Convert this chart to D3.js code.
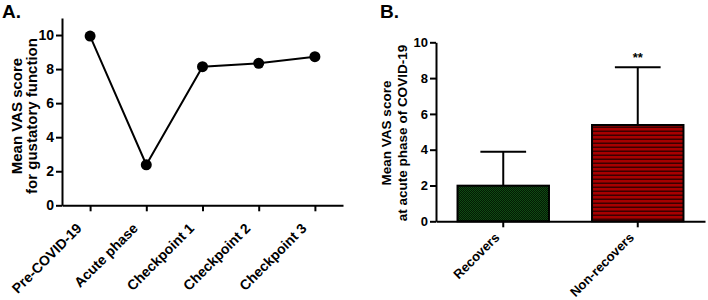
<!DOCTYPE html>
<html>
<head>
<meta charset="utf-8">
<script src="https://cdn.jsdelivr.net/npm/d3@7"></script>
<style>
  body { margin: 0; background: #fff; }
  svg text { font-family: "Liberation Sans", Arial, sans-serif !important; font-weight: 700 !important; fill: #000; }
</style>
</head>
<body>
<svg id="chart" width="708" height="300"></svg>
<script>
const width = 708, height = 300;

// panel A data
const phases = ["Pre-COVID-19", "Acute phase", "Checkpoint 1", "Checkpoint 2", "Checkpoint 3"];
const phaseScores = [9.94, 2.38, 8.14, 8.34, 8.73];
const ticksA = [0, 2, 4, 6, 8, 10];

// panel B data
const groups = ["Recovers", "Non-recovers"];
const groupMeans = [1.99, 5.38];
const groupSD = [1.9, 3.22];
const ticksB = [0, 2, 4, 6, 8, 10];

const svg = d3.select("#chart");

// patterns for the bars
const defs = svg.append("defs");
const green = defs.append("pattern")
    .attr("id", "greenPat")
    .attr("patternUnits", "userSpaceOnUse")
    .attr("width", 2).attr("height", 2);
green.append("rect").attr("width", 2).attr("height", 2).attr("fill", "#031a03");
green.append("rect").attr("width", 1).attr("height", 1).attr("fill", "#104a14");
green.append("rect").attr("x", 1).attr("y", 1).attr("width", 1).attr("height", 1).attr("fill", "#104a14");

const red = defs.append("pattern")
    .attr("id", "redPat")
    .attr("patternUnits", "userSpaceOnUse")
    .attr("width", 4).attr("height", 4);
red.append("rect").attr("width", 4).attr("height", 4).attr("fill", "#a80000");
red.append("rect").attr("y", 2.5).attr("width", 4).attr("height", 1.5).attr("fill", "#3c0000");

function styleAxis(g, size) {
    g.attr("font-family", null).attr("font-size", null);
    g.selectAll("path.domain").attr("stroke", "#000").attr("stroke-width", 2);
    g.selectAll(".tick line").attr("stroke", "#000").attr("stroke-width", 2);
    g.selectAll(".tick text").style("font-size", size + "px");
}

// ---------- Panel A ----------
const xA = d3.scalePoint().domain(phases).range([62, 343]).padding(0.5);
const yA = d3.scaleLinear().domain([0, 11]).range([205.3, 18]);

const axisAy = svg.append("g")
    .attr("transform", "translate(62,0)")
    .call(d3.axisLeft(yA).tickValues(ticksA).tickSize(6).tickSizeOuter(0).tickPadding(2));
styleAxis(axisAy, 14);

const axisAx = svg.append("g")
    .attr("transform", "translate(0,205.3)")
    .call(d3.axisBottom(xA).tickSize(6).tickSizeOuter(0));
styleAxis(axisAx, 14);
axisAx.selectAll(".tick text")
    .attr("text-anchor", "end")
    .attr("dy", 0)
    .attr("y", 0)
    .attr("transform", "translate(-8,24) rotate(-45)");

const line = d3.line()
    .x((d, i) => xA(phases[i]))
    .y(d => yA(d));

svg.append("path")
    .datum(phaseScores)
    .attr("fill", "none")
    .attr("stroke", "#000")
    .attr("stroke-width", 2)
    .attr("d", line);

svg.selectAll("circle.pt")
    .data(phaseScores)
    .enter()
    .append("circle")
    .attr("class", "pt")
    .attr("cx", (d, i) => xA(phases[i]))
    .attr("cy", d => yA(d))
    .attr("r", 5.5)
    .attr("fill", "#000");

svg.append("text")
    .attr("transform", "translate(21.5,116) rotate(-90)")
    .attr("text-anchor", "middle")
    .style("font-size", "15px")
    .text("Mean VAS score");
svg.append("text")
    .attr("transform", "translate(36.5,116) rotate(-90)")
    .attr("text-anchor", "middle")
    .style("font-size", "15px")
    .text("for gustatory function");

svg.append("text")
    .attr("x", 2).attr("y", 18)
    .style("font-size", "19px")
    .text("A.");

// ---------- Panel B ----------
const xB = d3.scaleBand().domain(groups).range([436, 705]).paddingInner(0.32).paddingOuter(0.16);
const yB = d3.scaleLinear().domain([0, 10]).range([221.3, 42.3]);

const axisBy = svg.append("g")
    .attr("transform", "translate(436,0)")
    .call(d3.axisLeft(yB).tickValues(ticksB).tickSize(6).tickSizeOuter(0).tickPadding(2));
styleAxis(axisBy, 13);

// error bars (drawn under the bars)
const cap = xB.bandwidth() / 4;
groups.forEach((g, i) => {
    const cx = xB(g) + xB.bandwidth() / 2;
    svg.append("line")
        .attr("x1", cx).attr("x2", cx)
        .attr("y1", yB(groupMeans[i])).attr("y2", yB(groupMeans[i] + groupSD[i]))
        .attr("stroke", "#000").attr("stroke-width", 2);
    svg.append("line")
        .attr("x1", cx - cap).attr("x2", cx + cap)
        .attr("y1", yB(groupMeans[i] + groupSD[i])).attr("y2", yB(groupMeans[i] + groupSD[i]))
        .attr("stroke", "#000").attr("stroke-width", 2);
});

svg.selectAll("rect.bar")
    .data(groupMeans)
    .enter()
    .append("rect")
    .attr("class", "bar")
    .attr("x", (d, i) => xB(groups[i]))
    .attr("y", d => yB(d))
    .attr("width", xB.bandwidth())
    .attr("height", d => yB(0) - yB(d))
    .attr("fill", (d, i) => i === 0 ? "url(#greenPat)" : "url(#redPat)")
    .attr("stroke", "#000")
    .attr("stroke-width", 2);

const axisBx = svg.append("g")
    .attr("transform", "translate(0,221.3)")
    .call(d3.axisBottom(xB).tickSize(6).tickSizeOuter(0));
styleAxis(axisBx, 13);
axisBx.selectAll(".tick text")
    .attr("text-anchor", "end")
    .attr("dy", 0)
    .attr("y", 0)
    .attr("transform", "translate(-3,17) rotate(-45)");

svg.append("text")
    .attr("x", xB("Non-recovers") + xB.bandwidth() / 2)
    .attr("y", yB(groupMeans[1] + groupSD[1]) - 5)
    .attr("text-anchor", "middle")
    .style("font-size", "13px")
    .text("**");

svg.append("text")
    .attr("transform", "translate(391,133) rotate(-90)")
    .attr("text-anchor", "middle")
    .style("font-size", "13.5px")
    .text("Mean VAS score");
svg.append("text")
    .attr("transform", "translate(406.5,133) rotate(-90)")
    .attr("text-anchor", "middle")
    .style("font-size", "13.5px")
    .text("at acute phase of COVID-19");

svg.append("text")
    .attr("x", 380).attr("y", 18)
    .style("font-size", "19px")
    .text("B.");
</script>
</body>
</html>
